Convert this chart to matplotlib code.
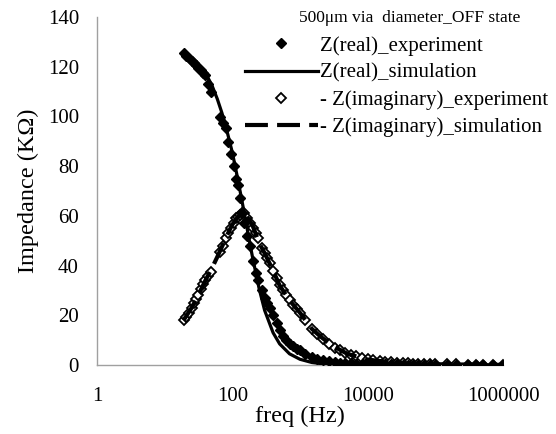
import numpy as np
import matplotlib
matplotlib.use('Agg')
import matplotlib.pyplot as plt

# 字体: Times 风格
plt.rcParams['font.family'] = ['Liberation Serif', 'DejaVu Serif']

# 实验数据 (频率 Hz, 阻抗 KΩ)
freq_exp = [19, 21, 23, 25, 27, 29, 31, 34, 37, 40, 44, 48,
            66, 72, 80, 86, 95, 105, 115, 121, 130, 138, 150, 165, 180, 200,
            220, 240, 270, 300, 330, 360, 400, 450, 500, 560, 630, 710, 800,
            900, 1000, 1200, 1500, 1800, 2200, 2700, 3300, 3900, 4700, 5600,
            6800, 8200, 10000, 12000, 15000, 18000, 22000, 27000, 33000, 39000,
            47000, 56000, 68000, 82000, 100000, 150000, 200000, 300000, 400000,
            500000, 700000, 1000000]
z_real_exp = [125.5, 124.5, 123.5, 122.5, 121.5, 120.5, 119.5, 118.5, 117.5, 116.5, 113, 110,
              99.8, 97.5, 95.3, 89.7, 85, 80, 75, 72.4, 67, 61, 57, 52, 48, 42,
              37, 34, 30, 27, 25, 23, 20, 17, 14, 11.5, 10, 8.5, 7.5,
              6.5, 6, 4.5, 3.2, 2.5, 2, 1.5, 1.2, 1, 0.8, 0.7,
              0.6, 0.5, 0.4, 0.35, 0.3, 0.3, 0.25, 0.25, 0.2, 0.2,
              0.2, 0.2, 0.15, 0.15, 0.15, 0.1, 0.1, 0.1, 0.1,
              0.1, 0.1, 0.1]
z_imag_exp = [18, 19.5, 21, 23, 25, 26.5, 28, 30.5, 32.5, 34, 36, 37.5,
              45.5, 48, 51, 53, 55, 57, 59, 59.5, 60.5, 61, 61, 59, 57, 55,
              53, 51, 47, 45, 43, 41, 38, 35, 32, 30, 28, 26, 24,
              22.5, 21, 18, 14.5, 12.5, 10.5, 8.5, 7, 6, 5, 4,
              3.5, 3, 2.5, 2, 1.6, 1.3, 1.1, 0.9, 0.8, 0.7,
              0.6, 0.5, 0.45, 0.4, 0.35, 0.3, 0.25, 0.2, 0.2,
              0.15, 0.1, 0.1]

# 仿真数据
freq_sim = [19, 25, 30, 40, 50, 60, 70, 80, 90, 100, 120, 140, 160, 180, 200,
            250, 300, 400, 500, 700, 1000, 1500, 2000, 3000, 5000, 10000,
            20000, 50000, 100000, 1000000]
z_real_sim = [124.8, 123, 121.5, 117.5, 112.5, 107, 101.5, 96, 90.5, 85.5, 75, 65.5, 57, 49.5, 43,
              30.5, 22, 13, 8.5, 4.5, 2.3, 1.0, 0.6, 0.3, 0.1, 0.03,
              0, 0, 0, 0]
z_imag_sim = [18, 23, 27, 34, 39, 43.5, 47.5, 51, 54, 56.5, 59.5, 61, 60, 58, 56,
              49, 45, 38, 32, 26, 21, 14.5, 11.5, 7.8, 4.5, 2.2,
              1.2, 0.5, 0.3, 0.05]

fig = plt.figure(figsize=(5.56, 4.34), dpi=100)
ax = fig.add_axes([97 / 556, 1 - 365 / 434, (503 - 97) / 556, (365 - 17) / 434])

ax.plot(freq_exp, z_real_exp, linestyle='none', marker='D', markersize=4.8,
        color='black', label='Z(real)_experiment', zorder=4)
ax.plot(freq_sim, z_real_sim, color='black', linewidth=2.3,
        label='Z(real)_simulation', zorder=3)
ax.plot(freq_exp, z_imag_exp, linestyle='none', marker='D', markersize=4.8,
        markerfacecolor='white', markeredgecolor='black', markeredgewidth=1.3,
        label='- Z(imaginary)_experiment', zorder=2)
ax.plot(freq_sim, z_imag_sim, color='black', linewidth=3, dashes=(5.5, 2.2),
        label='- Z(imaginary)_simulation', zorder=3)

ax.set_xscale('log')
ax.set_xlim(1, 1000000)
ax.set_ylim(0, 140)
ax.set_xticks([1, 100, 10000, 1000000])
ax.set_xticklabels(['1', '100', '10000', '1000000'])
ax.xaxis.set_minor_locator(matplotlib.ticker.NullLocator())
ax.set_yticks(np.arange(0, 141, 20))
ax.tick_params(axis='both', length=0, labelsize=15)
ax.tick_params(axis='x', pad=16)
ax.tick_params(axis='y', pad=13)

for s in ['top', 'right']:
    ax.spines[s].set_visible(False)
for s in ['left', 'bottom']:
    ax.spines[s].set_color('#a0a0a0')
    ax.spines[s].set_linewidth(1.0)

ax.set_xlabel('freq (Hz)', fontsize=17.5, labelpad=0)
ax.set_ylabel('Impedance (KΩ)', fontsize=17.5, labelpad=6)

fig.text(410 / 556, 1 - 18 / 434, '500μm via  diameter_OFF state',
         ha='center', va='center', fontsize=12.5)

leg = ax.legend(loc='upper left', bbox_to_anchor=(245 / 556, 1 - 36 / 434),
                bbox_transform=fig.transFigure, frameon=False, fontsize=15,
                handlelength=3.5, handletextpad=0.12, labelspacing=0.36,
                borderpad=0, borderaxespad=0, numpoints=1)

plt.savefig('out.png', dpi=100)
